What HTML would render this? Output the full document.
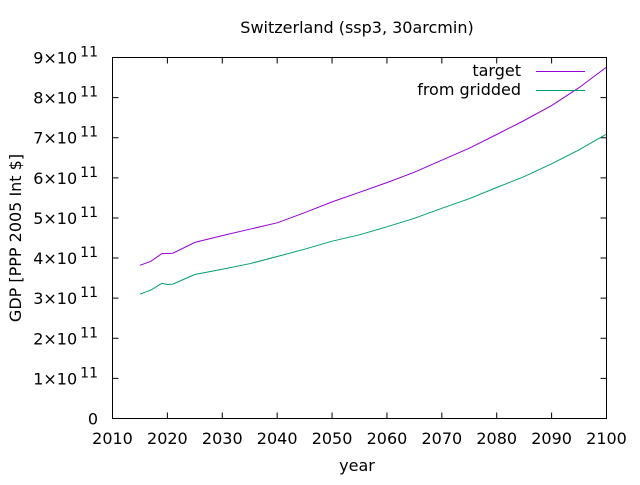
<!DOCTYPE html>
<html><head><meta charset="utf-8"><style>
body{margin:0;background:#fff}
svg text{font-family:"DejaVu Sans","Liberation Sans",sans-serif;fill:#000;font-size:16px}
</style></head><body>
<svg id="chart" width="640" height="480" xmlns="http://www.w3.org/2000/svg">
<rect width="640" height="480" fill="#fff"/>
<text x="357" y="33" text-anchor="middle">Switzerland (ssp3, 30arcmin)</text>
<text x="357" y="471" text-anchor="middle">year</text>
<text transform="translate(21,238) rotate(-90)" text-anchor="middle">GDP [PPP 2005 Int $]</text>
<g id="axes"></g>
<g id="series"></g>
<rect x="112.5" y="57.5" width="494" height="361" fill="none" stroke="#000" stroke-width="1"/>
<g>
<text x="521" y="76" text-anchor="end">target</text>
<line x1="536" y1="71.5" x2="585" y2="71.5" stroke="#9400d3" stroke-width="1"/>
<text x="521" y="95" text-anchor="end">from gridded</text>
<line x1="536" y1="90.5" x2="585" y2="90.5" stroke="#009e73" stroke-width="1"/>
</g>
</svg>
<script>
const years=[2015,2017,2019,2021,2025,2030,2035,2040,2045,2050,2055,2060,2065,2070,2075,2080,2085,2090,2095,2100];
const targetVals=[3.82,3.92,4.11,4.12,4.39,4.56,4.72,4.88,5.13,5.40,5.64,5.88,6.14,6.44,6.74,7.08,7.43,7.80,8.25,8.76];
const griddedYears=[2015,2017,2019,2020,2021,2025,2030,2035,2040,2045,2050,2055,2060,2065,2070,2075,2080,2085,2090,2095,2100];
const griddedVals=[3.10,3.20,3.37,3.34,3.35,3.59,3.72,3.86,4.04,4.22,4.42,4.58,4.78,4.99,5.24,5.48,5.76,6.03,6.35,6.70,7.09];
const xTicks=[2010,2020,2030,2040,2050,2060,2070,2080,2090,2100];
const yTicks=[0,1,2,3,4,5,6,7,8,9];
const NS='http://www.w3.org/2000/svg';
const X0=112.5,X1=606.5,Y0=418.5,Y1=57.5;
function sx(v){return X0+(v-2010)/90*(X1-X0);}
function sy(v){return Y0-v/9*(Y0-Y1);}
const axes=document.getElementById('axes');
xTicks.forEach(t=>{
  const x=sx(t);
  const l=document.createElementNS(NS,'path');
  l.setAttribute('d',`M${x},${Y0}v-6M${x},${Y1}v6`);
  l.setAttribute('stroke','#000');
  
  
  axes.appendChild(l);
  const tx=document.createElementNS(NS,'text');
  tx.setAttribute('x',x);tx.setAttribute('y',444);tx.setAttribute('text-anchor','middle');
  tx.textContent=t;
  
  
  axes.appendChild(tx);
});
yTicks.forEach(t=>{
  const y=sy(t);
  const l=document.createElementNS(NS,'path');
  l.setAttribute('d',`M${X0},${y}h6M${X1},${y}h-6`);
  l.setAttribute('stroke','#000');
  
  
  axes.appendChild(l);
  const tx=document.createElementNS(NS,'text');
  tx.setAttribute('y',y+6);
  tx.setAttribute('x',98);tx.setAttribute('text-anchor','end');
  
  
  if(t===0){tx.textContent='0';}
  else{
    tx.innerHTML=t+'×10<tspan dx="3" dy="-7" font-size="14">11</tspan>';
  }
  axes.appendChild(tx);
});
const ser=document.getElementById('series');
function line(xs,vals,color,name){
  const p=document.createElementNS(NS,'polyline');
  p.setAttribute('points',xs.map((x,i)=>sx(x).toFixed(1)+','+sy(vals[i]).toFixed(1)).join(' '));
  p.setAttribute('fill','none');p.setAttribute('stroke',color);p.setAttribute('stroke-width','1');
  
  
  ser.appendChild(p);
}
line(years,targetVals,'#9400d3','target-line');
line(griddedYears,griddedVals,'#009e73','gridded-line');
</script>
</body></html>
